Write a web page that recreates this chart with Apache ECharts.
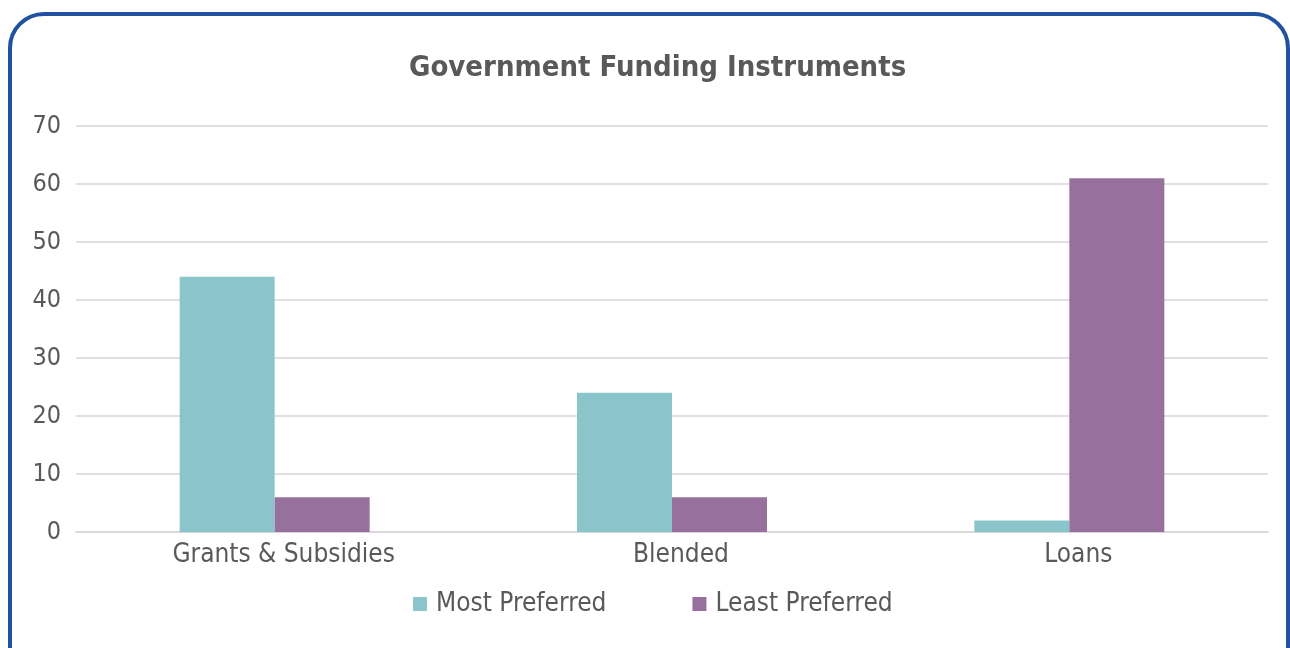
<!DOCTYPE html>
<html>
<head>
<meta charset="utf-8">
<script src="https://cdn.jsdelivr.net/npm/echarts@6/dist/echarts.min.js"></script>
<style>
  html,body{margin:0;padding:0;background:#fff;}
  #frame{position:absolute;left:8px;top:12px;width:1274px;height:680px;border:4px solid #2151a0;border-radius:36px;}
  #main{position:absolute;left:0;top:0;width:1290px;height:648px;}
</style>
</head>
<body>
<div id="frame"></div>
<div id="main"></div>
<script>
var categories=['Grants & Subsidies','Blended','Loans'];
var mostPreferred=[44,24,2];
var leastPreferred=[6,6,61];
var yTicks=[0,10,20,30,40,50,60,70];

var fontFam="'Liberation Sans Narrow','DejaVu Sans Condensed','Roboto',sans-serif";
var chart=echarts.init(document.getElementById('main'));
chart.setOption({
  animation:false,
  textStyle:{fontFamily:fontFam},
  title:{
    text:'Government Funding Instruments',
    left:404,
    top:49,
    textStyle:{fontFamily:fontFam,fontSize:29,fontWeight:'bold',color:'#595959'}
  },
  legend:{
    data:['Most Preferred','Least Preferred'],
    bottom:26,
    left:408,
    itemWidth:14,
    itemHeight:14,
    itemGap:86,
    icon:'rect',
    textStyle:{fontFamily:fontFam,fontSize:26,color:'#595959',padding:[0,0,0,4]}
  },
  grid:{left:76,right:22,top:126,bottom:116,containLabel:false},
  xAxis:{
    type:'category',
    data:categories,
    axisLine:{lineStyle:{color:'#d9d9d9',width:2}},
    axisTick:{show:false},
    axisLabel:{fontFamily:fontFam,fontSize:26,color:'#595959',margin:10,padding:[0,0,0,18]}
  },
  yAxis:{
    type:'value',
    min:yTicks[0],
    max:yTicks[yTicks.length-1],
    interval:10,
    axisLine:{show:false},
    axisTick:{show:false},
    splitLine:{lineStyle:{color:'#e0e0e0',width:2}},
    axisLabel:{fontFamily:fontFam,fontSize:25,color:'#595959',margin:15}
  },
  series:[
    {name:'Most Preferred',type:'bar',data:mostPreferred,barWidth:95,barGap:'0%',itemStyle:{color:'#8bc5cc'}},
    {name:'Least Preferred',type:'bar',data:leastPreferred,barWidth:95,barGap:'0%',itemStyle:{color:'#97709e'}}
  ]
});
</script>
</body>
</html>
